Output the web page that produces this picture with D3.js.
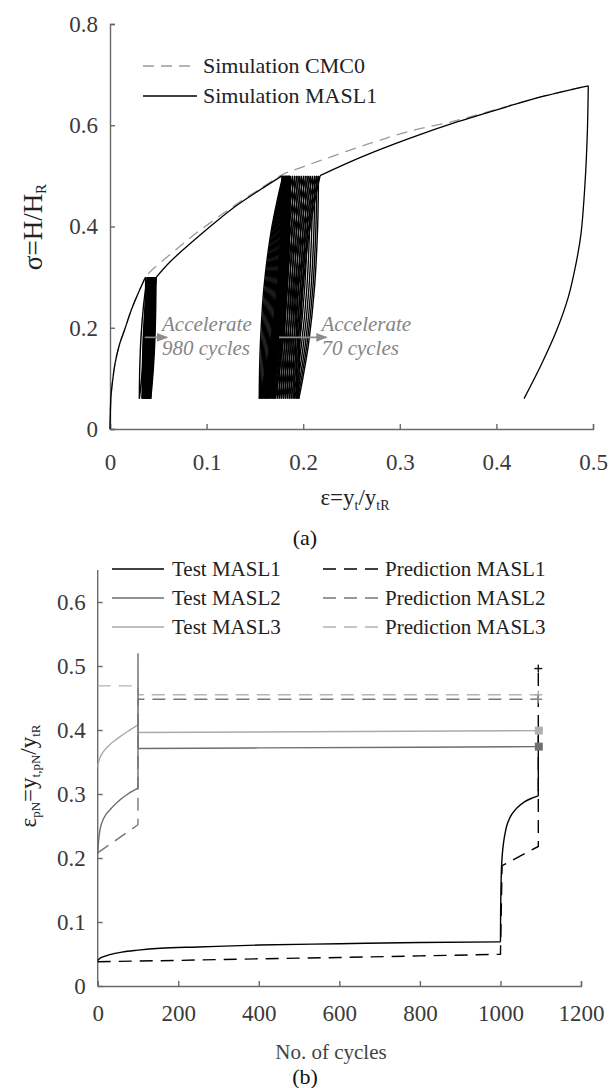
<!DOCTYPE html>
<html><head><meta charset="utf-8">
<script src="https://cdn.jsdelivr.net/npm/d3@7"></script>
<style>
body{margin:0;background:#fff}
svg text{font-family:'Liberation Serif','Times New Roman',serif !important}
</style>
</head><body>
<svg id="c" width="609" height="1088"></svg>
<script>
// ================= DATA =================
// ---- Chart (a): sigma = H/H_R vs epsilon = y_t/y_tR ----
const aXTicks = [0, 0.1, 0.2, 0.3, 0.4, 0.5];
const aYTicks = [0, 0.2, 0.4, 0.6, 0.8];
// Simulation MASL1 backbone pieces (eps, sigma)
const masl1Seg1Eps = [0, 0.0003, 0.001, 0.0030, 0.0052, 0.0095, 0.0155, 0.0215, 0.0276, 0.0345, 0.0369];
const masl1Seg1Sig = [0, 0.03, 0.064, 0.100, 0.129, 0.165, 0.198, 0.232, 0.261, 0.291, 0.300];
const masl1Seg2Eps = [0.0480, 0.060, 0.075, 0.090, 0.110, 0.130, 0.155, 0.178];
const masl1Seg2Sig = [0.300, 0.326, 0.353, 0.378, 0.410, 0.440, 0.472, 0.500];
const masl1Seg3Eps = [0.2174, 0.260, 0.310, 0.360, 0.410, 0.450, 0.4951];
const masl1Seg3Sig = [0.5005, 0.537, 0.574, 0.607, 0.636, 0.658, 0.678];
const masl1UnloadEps = [0.4951, 0.4941, 0.4917, 0.4876, 0.4824, 0.4745, 0.4624, 0.4469, 0.4286];
const masl1UnloadSig = [0.678, 0.583, 0.484, 0.386, 0.3265, 0.261, 0.195, 0.129, 0.060];
// Cyclic loops: strain at the top (peak) and bottom (valley) of each drawn cycle
const loop1Peak = 0.30, loop1Valley = 0.06;
const loop1TopEps = [0.0369, 0.0386, 0.0392, 0.0398, 0.0404, 0.0410, 0.0416, 0.0422, 0.0428, 0.0434, 0.0440, 0.0446, 0.0452, 0.0458, 0.0464, 0.0470, 0.0476, 0.0480];
const loop1BotEps = [0.0304, 0.0332, 0.0338, 0.0344, 0.0350, 0.0356, 0.0362, 0.0368, 0.0374, 0.0380, 0.0386, 0.0392, 0.0398, 0.0404, 0.0410, 0.0416, 0.0422];
const loop2Peak = 0.50, loop2Valley = 0.06;
const loop2TopEps = [0.1780, 0.1790, 0.1796, 0.1802, 0.1808, 0.1814, 0.1820, 0.1826, 0.1832, 0.1838, 0.1844, 0.1850, 0.1856, 0.1862, 0.1868, 0.1890, 0.1913, 0.1936, 0.1959, 0.1982, 0.2005, 0.2028, 0.2051, 0.2074, 0.2097, 0.2120, 0.2140, 0.2158, 0.2174];
const loop2BotEps = [0.1545, 0.1558, 0.1570, 0.1582, 0.1594, 0.1606, 0.1618, 0.1630, 0.1642, 0.1654, 0.1666, 0.1678, 0.1690, 0.1702, 0.1714, 0.1735, 0.1755, 0.1775, 0.1795, 0.1815, 0.1835, 0.1855, 0.1875, 0.1895, 0.1912, 0.1928, 0.1942, 0.1955];
// normalized branch shape (fraction of stress range travelled, fraction of strain range travelled)
const branchS = [0, 0.10, 0.25, 0.50, 0.75, 0.90, 1.0];
const branchF = [0, 0.01, 0.05, 0.20, 0.50, 0.78, 1.0];
// Simulation CMC0 (monotonic)
const cmc0Eps = [0, 0.0003, 0.001, 0.0030, 0.0052, 0.0095, 0.0155, 0.0215, 0.0276, 0.0345, 0.0369, 0.045, 0.060, 0.075, 0.090, 0.110, 0.130, 0.155, 0.178, 0.197, 0.2174, 0.2657, 0.310, 0.360, 0.410, 0.450, 0.4951];
const cmc0Sig = [0, 0.03, 0.064, 0.100, 0.129, 0.165, 0.198, 0.232, 0.261, 0.291, 0.300, 0.317, 0.341, 0.365, 0.388, 0.416, 0.443, 0.474, 0.502, 0.516, 0.530, 0.562, 0.588, 0.610, 0.637, 0.658, 0.678];
const aLegend = ["Simulation CMC0", "Simulation MASL1"];
const aNotes = [["Accelerate", "980 cycles"], ["Accelerate", "70 cycles"]];
const aArrowFromEps = [0.036, 0.175];
const aArrowToEps = [0.059, 0.224];
const aArrowSig = 0.181;

// ---- Chart (b): eps_pN vs No. of cycles ----
const bXTicks = [0, 200, 400, 600, 800, 1000, 1200];
const bYTicks = [0, 0.1, 0.2, 0.3, 0.4, 0.5, 0.6];
const testM1N = [0, 5, 15, 30, 60, 100, 155, 250, 400, 600, 800, 1000];
const testM1V = [0.040, 0.043, 0.046, 0.049, 0.053, 0.056, 0.059, 0.061, 0.064, 0.066, 0.068, 0.069];
const testM1JumpN = [1000, 1000.5, 1001.5, 1003, 1006, 1011, 1018, 1028, 1042, 1058, 1076, 1094];
const testM1JumpV = [0.069, 0.120, 0.160, 0.190, 0.215, 0.237, 0.255, 0.268, 0.279, 0.287, 0.293, 0.297];
const testM1EndN = [1094, 1094];
const testM1EndV = [0.297, 0.399];
const predM1N = [0, 200, 400, 600, 800, 1000, 1004, 1094, 1094];
const predM1V = [0.038, 0.040, 0.0425, 0.0445, 0.047, 0.0495, 0.188, 0.218, 0.496];
const testM2N = [0, 2, 6, 15, 30, 50, 75, 100];
const testM2V = [0.205, 0.225, 0.245, 0.262, 0.275, 0.288, 0.300, 0.309];
const testM2FlatN = [100, 100, 100.5, 400, 800, 1094];
const testM2FlatV = [0.309, 0.520, 0.371, 0.372, 0.373, 0.374];
const predM2N = [0, 100, 100, 1094];
const predM2V = [0.208, 0.252, 0.448, 0.448];
const testM3N = [0, 3, 8, 15, 30, 50, 75, 100];
const testM3V = [0.342, 0.352, 0.360, 0.367, 0.377, 0.387, 0.398, 0.408];
const testM3FlatN = [100, 100, 1094];
const testM3FlatV = [0.408, 0.396, 0.399];
const predM3N = [0, 100, 100, 1094];
const predM3V = [0.469, 0.469, 0.455, 0.455];
const bLegendTest = ["Test MASL1", "Test MASL2", "Test MASL3"];
const bLegendPred = ["Prediction MASL1", "Prediction MASL2", "Prediction MASL3"];

// ================= DRAWING =================
const svg = d3.select("#c");
const axisCol = "#6a6a6a", textCol = "#3a3a3a";
const c2 = "#6e6e6e", c3 = "#a9a9a9";
const serif = "'Liberation Serif','Times New Roman',serif";

function zip(a, b) { return a.map((v, i) => [v, b[i]]); }
function styleAxis(g) {
  g.attr("font-family", serif).attr("font-size", 23);
  g.selectAll(".domain").attr("stroke", axisCol).attr("stroke-width", 1.4);
  g.selectAll(".tick line").attr("stroke", axisCol).attr("stroke-width", 1.4);
  g.selectAll(".tick text").attr("fill", textCol).style("font-family", serif).style("font-size", "23px");
}

// ---------- chart (a) ----------
const xa = d3.scaleLinear().domain([0, 0.5]).range([110, 593]);
const ya = d3.scaleLinear().domain([0, 0.8]).range([429, 24]);
const ga = svg.append("g");
const fmtA = d => d === 0 ? "0" : d3.format(".1f")(d);
ga.append("g").attr("transform", "translate(0,429)")
  .call(d3.axisBottom(xa).tickValues(aXTicks).tickSize(-5).tickPadding(25).tickFormat(fmtA)).call(styleAxis);
ga.append("g").attr("transform", "translate(110,0)")
  .call(d3.axisLeft(ya).tickValues(aYTicks).tickSize(-5).tickPadding(12).tickFormat(fmtA)).call(styleAxis);

const lineA = d3.line().x(d => xa(d[0])).y(d => ya(d[1])).curve(d3.curveCatmullRom.alpha(0.5));

// CMC0 dashed
ga.append("path").attr("d", lineA(zip(cmc0Eps, cmc0Sig)))
  .attr("fill", "none").attr("stroke", "#9a9a9a").attr("stroke-width", 1.3).attr("stroke-dasharray", "11,7");

// MASL1 backbone
[[masl1Seg1Eps, masl1Seg1Sig], [masl1Seg2Eps, masl1Seg2Sig], [masl1Seg3Eps, masl1Seg3Sig], [masl1UnloadEps, masl1UnloadSig]]
  .forEach(([e, s]) => ga.append("path").attr("d", lineA(zip(e, s)))
    .attr("fill", "none").attr("stroke", "#000").attr("stroke-width", 1.3));

// loops
function loopPaths(tops, bots, peak, valley) {
  const out = [];
  for (let i = 0; i < bots.length; i++) {
    const et = tops[i], eb = bots[i], et2 = tops[i + 1];
    const un = branchS.map((s, k) => [et - (et - eb) * branchF[k], peak - s * (peak - valley)]);
    const re = branchS.map((s, k) => [eb + (et2 - eb) * branchF[k], valley + s * (peak - valley)]);
    out.push(lineA(un), lineA(re));
  }
  return out;
}
loopPaths(loop1TopEps, loop1BotEps, loop1Peak, loop1Valley).forEach(d =>
  ga.append("path").attr("d", d).attr("fill", "none").attr("stroke", "#000").attr("stroke-width", 1.4));
loopPaths(loop2TopEps, loop2BotEps, loop2Peak, loop2Valley).forEach(d =>
  ga.append("path").attr("d", d).attr("fill", "none").attr("stroke", "#000").attr("stroke-width", 1.4));

// annotations
svg.append("defs").append("marker").attr("id", "ah").attr("viewBox", "0 0 10 10")
  .attr("refX", 9).attr("refY", 5).attr("markerWidth", 7).attr("markerHeight", 7).attr("orient", "auto")
  .append("path").attr("d", "M0,1 L10,5 L0,9 z").attr("fill", "#8c8c8c");
aNotes.forEach((lines, i) => {
  const x0 = xa(aArrowFromEps[i]), x1 = xa(aArrowToEps[i]), y0 = ya(aArrowSig);
  ga.append("line").attr("x1", x0).attr("y1", y0).attr("x2", x1).attr("y2", y0)
    .attr("stroke", "#8c8c8c").attr("stroke-width", 1.6).attr("marker-end", "url(#ah)");
  lines.forEach((t, j) => ga.append("text").text(t).attr("x", x1 - 5).attr("y", y0 - 6 + j * 24)
    .attr("fill", "#858585").attr("font-size", 21).attr("font-style", "italic"));
});

// legend (a)
ga.append("line").attr("x1", 143).attr("x2", 197).attr("y1", 66).attr("y2", 66)
  .attr("stroke", "#9a9a9a").attr("stroke-width", 1.3).attr("stroke-dasharray", "11,7");
ga.append("line").attr("x1", 143).attr("x2", 197).attr("y1", 96).attr("y2", 96)
  .attr("stroke", "#000").attr("stroke-width", 1.3);
aLegend.forEach((t, i) => ga.append("text").text(t).attr("x", 203).attr("y", 73 + i * 30)
  .attr("fill", "#222").attr("font-size", 22));

// axis titles (a)
const ta = ga.append("text").attr("transform", "translate(42,227) rotate(-90)").attr("text-anchor", "middle")
  .attr("fill", "#222").attr("font-size", 27);
ta.append("tspan").text("σ=H/H");
ta.append("tspan").text("R").attr("font-size", 15).attr("dy", 4);
const txa = ga.append("text").attr("x", 355).attr("y", 505).attr("text-anchor", "middle")
  .attr("fill", "#222").attr("font-size", 23);
txa.append("tspan").text("ε=y");
txa.append("tspan").text("t").attr("font-size", 14).attr("dy", 5);
txa.append("tspan").text("/y").attr("dy", -5);
txa.append("tspan").text("tR").attr("font-size", 14).attr("dy", 5);
svg.append("text").text("(a)").attr("x", 305).attr("y", 545).attr("text-anchor", "middle")
  .attr("fill", "#111").attr("font-size", 22);

// ---------- chart (b) ----------
const xb = d3.scaleLinear().domain([0, 1200]).range([97.7, 581]);
const yb = d3.scaleLinear().domain([0, 0.65]).range([986, 570]);
const gb = svg.append("g");
gb.append("g").attr("transform", "translate(0,986)")
  .call(d3.axisBottom(xb).tickValues(bXTicks).tickSize(-5).tickPadding(19).tickFormat(d3.format("d"))).call(styleAxis);
const yg = gb.append("g").attr("transform", "translate(97.7,0)")
  .call(d3.axisLeft(yb).tickValues(bYTicks).tickSize(-5).tickPadding(12).tickFormat(fmtA)).call(styleAxis);
yg.select(".domain").attr("d", "M0," + yb(0) + "V" + yb(0.65));

const lineLin = d3.line().x(d => xb(d[0])).y(d => yb(d[1]));
const lineMX = d3.line().x(d => xb(d[0])).y(d => yb(d[1])).curve(d3.curveMonotoneX);
const lineMY = d3.line().x(d => xb(d[0])).y(d => yb(d[1])).curve(d3.curveMonotoneY);
function drawB(gen, n, v, col, dash) {
  gb.append("path").attr("d", gen(zip(n, v))).attr("fill", "none")
    .attr("stroke", col).attr("stroke-width", 1.4).attr("stroke-dasharray", dash || null);
}
drawB(lineLin, predM3N, predM3V, "#b3b3b3", "13,8");
drawB(lineLin, predM2N, predM2V, "#777", "13,8");
drawB(lineMX, testM3N, testM3V, c3);
drawB(lineLin, testM3FlatN, testM3FlatV, c3);
drawB(lineMX, testM2N, testM2V, c2);
drawB(lineLin, testM2FlatN, testM2FlatV, c2);
drawB(lineLin, predM1N, predM1V, "#000", "13,8");
drawB(lineMX, testM1N, testM1V, "#000");
drawB(lineMY, testM1JumpN, testM1JumpV, "#000");
drawB(lineLin, testM1EndN, testM1EndV, "#000");

// end markers
const last = a => a[a.length - 1];
[[last(testM3FlatN), last(testM3FlatV), "#b0b0b0"], [last(testM2FlatN), last(testM2FlatV), "#707070"]]
  .forEach(([n, v, col]) => gb.append("rect").attr("x", xb(n) - 3.5).attr("y", yb(v) - 4).attr("width", 8).attr("height", 8).attr("fill", col));
[[last(predM1N), last(predM1V), "#111"], [last(predM3N), last(predM3V), "#aaa"], [last(predM2N), last(predM2V), "#888"]]
  .forEach(([n, v, col]) => {
    gb.append("line").attr("x1", xb(n) - 4).attr("x2", xb(n) + 4).attr("y1", yb(v)).attr("y2", yb(v)).attr("stroke", col).attr("stroke-width", 1.4);
    gb.append("line").attr("x1", xb(n)).attr("x2", xb(n)).attr("y1", yb(v) - 4).attr("y2", yb(v) + 4).attr("stroke", col).attr("stroke-width", 1.4);
  });

// legend (b)
const legCols = ["#000", c2, c3];
const predCols = ["#000", "#777", "#b3b3b3"];
bLegendTest.forEach((t, i) => {
  const y = 569 + i * 29;
  gb.append("line").attr("x1", 112).attr("x2", 164).attr("y1", y).attr("y2", y).attr("stroke", legCols[i]).attr("stroke-width", 1.4);
  gb.append("text").text(t).attr("x", 172).attr("y", y + 7).attr("fill", "#222").attr("font-size", 21);
});
bLegendPred.forEach((t, i) => {
  const y = 569 + i * 29;
  gb.append("line").attr("x1", 323).attr("x2", 380).attr("y1", y).attr("y2", y).attr("stroke", predCols[i]).attr("stroke-width", 1.4).attr("stroke-dasharray", "13,8");
  gb.append("text").text(t).attr("x", 385).attr("y", y + 7).attr("fill", "#222").attr("font-size", 21);
});

// axis titles (b)
const tb = gb.append("text").attr("transform", "translate(36,776) rotate(-90)").attr("text-anchor", "middle")
  .attr("fill", "#222").attr("font-size", 23);
tb.append("tspan").text("ε");
tb.append("tspan").text("pN").attr("font-size", 13).attr("dy", 4);
tb.append("tspan").text("=y").attr("dy", -4);
tb.append("tspan").text("t,pN").attr("font-size", 13).attr("dy", 4);
tb.append("tspan").text("/y").attr("dy", -4);
tb.append("tspan").text("tR").attr("font-size", 13).attr("dy", 4);
gb.append("text").text("No. of cycles").attr("x", 331).attr("y", 1059).attr("text-anchor", "middle")
  .attr("fill", "#444").attr("font-size", 21);
svg.append("text").text("(b)").attr("x", 305).attr("y", 1084).attr("text-anchor", "middle")
  .attr("fill", "#111").attr("font-size", 22);
</script>
</body></html>
